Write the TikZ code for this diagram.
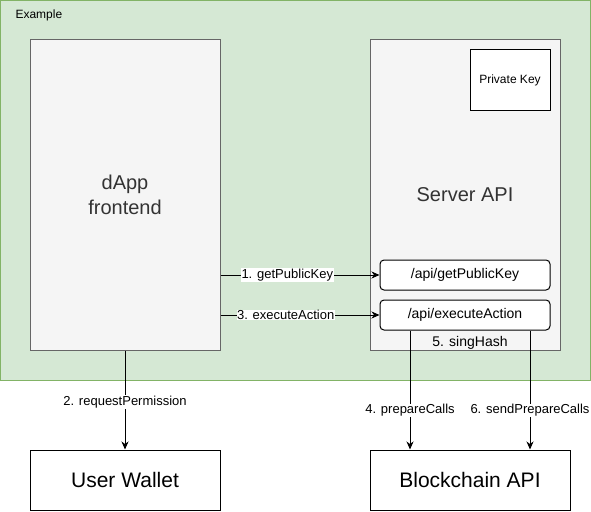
\documentclass[tikz,border=0pt]{standalone}
\usepackage{fontspec}
\setmainfont{Liberation Sans}
\usetikzlibrary{arrows.meta}
\definecolor{groupfill}{HTML}{D5E8D4}
\definecolor{groupline}{HTML}{82B366}
\definecolor{panelfill}{HTML}{F5F5F5}
\definecolor{panelline}{HTML}{666666}
\definecolor{paneltext}{HTML}{333333}
\def\fs#1{\fontsize{#1}{#1}\selectfont}
\tikzset{
	panel/.style={draw=panelline, fill=panelfill, line width=1pt, text=paneltext, align=center, font=\fontsize{20}{25}\selectfont, minimum width=#1, minimum height=310, inner sep=0pt},
	plainbox/.style={draw, fill=white, line width=1pt, minimum width=#1, inner sep=0pt},
	apibox/.style={plainbox=170, rounded corners=4pt, minimum height=30, font=\fs{14}},
	flow/.style={line width=1pt, -{Stealth[length=8pt,width=7pt,inset=2.5pt]}},
	lbl/.style={fill=white, inner sep=0.5pt, font=\fs{13}}
}

\begin{document}
\begin{tikzpicture}[x=1pt,y=-1pt]
		%%%%% START %%%%%
		\useasboundingbox (0,0) rectangle (591,511);
		
		\draw[line width=1pt, draw=groupline, fill=groupfill] (0.5,0.5) rectangle (590,380);
		\node[anchor=west, font=\fs{12}] (grouplabel) at (12,15) {Example};
		
		\node[panel=190] (dapp) at (125,195) {dApp\\frontend};
		\node[panel=190] (server) at (465,195) {Server API};
		
		\node[plainbox=80, minimum height=60, font=\fs{12}] (privkey) at (510,80) {Private Key};
		\node[apibox] (getkey) at (465,275) {/api/getPublicKey};
		\node[apibox] (execute) at (465,315) {/api/executeAction};
		\node[font=\fs{14}] (hash) at (470,343) {5. singHash};
		
		\node[plainbox=190, minimum height=60, font=\fs{21}] (wallet) at (125,480) {User Wallet};
		\node[plainbox=200, minimum height=60, font=\fs{21}] (chain) at (470,480) {Blockchain API};
		
		\draw[flow] (dapp.east |- getkey.west) -- node[lbl, pos=0.42] {1. getPublicKey} (getkey.west);
		\draw[flow] (dapp.south) -- node[lbl, pos=0.52] {2. requestPermission} (wallet.north);
		\draw[flow] (dapp.east |- execute.west) -- node[lbl, pos=0.41] {3. executeAction} (execute.west);
		\draw[flow] ([xshift=-55pt]execute.south) -- node[lbl, pos=0.67] {4. prepareCalls} ([xshift=-55pt]execute.south |- chain.north);
		\draw[flow] ([xshift=65pt]execute.south) -- node[lbl, pos=0.67] {6. sendPrepareCalls} ([xshift=65pt]execute.south |- chain.north);
		
		%%%%% END %%%%%
	\end{tikzpicture}
\end{document}
